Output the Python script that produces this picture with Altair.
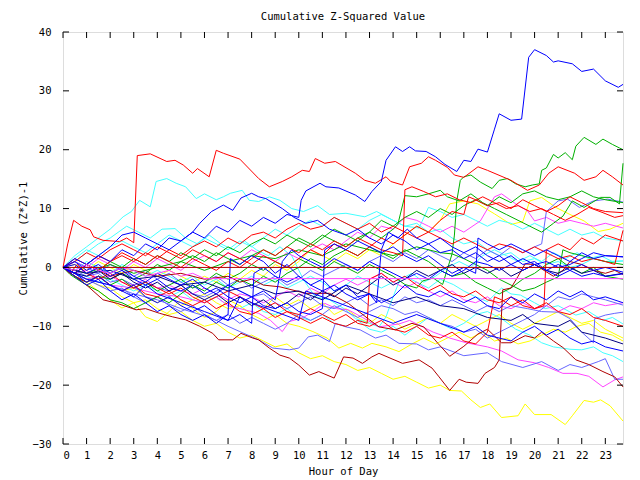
import altair as alt
import pandas as pd

hour_ticks = list(range(24))
value_ticks = [-30, -20, -10, 0, 10, 20, 30, 40]

B1 = [(0,0),(0.5,1.5),(1,0.5),(1.5,2),(2,1),(2.5,3),(3,2),(3.5,4),(4,3),(4.5,5),(5,4.5),(5.5,6),(6,5),(6.5,7),(7,6),(7.5,8),(8,7),(8.5,8.5),(9,7.5),(9.5,9),(10,8.5),(10.1,11.4),(10.3,13),(10.9,14.3),(11.15,13.7),(11.7,13.5),(12.4,12.3),(12.8,11.2),(13.1,12.9),(13.5,14.6),(13.7,18.2),(14.1,20.5),(14.4,19.7),(14.7,20.5),(14.95,19.8),(15.4,19.7),(15.8,18.8),(16.2,17.5),(16.7,16.3),(17.0,18.2),(17.3,18),(17.6,20.1),(18.0,19.6),(18.3,23.5),(18.5,26.1),(19.0,25),(19.45,25.2),(19.75,35.7),(20.0,37),(20.5,36),(20.8,34.9),(21,35.1),(21.6,34.6),(22,33.3),(22.5,33.7),(23,31.7),(23.55,30.6),(23.75,31.1)]
B2 = [(0,0),(0.5,-1),(1,0.5),(1.5,2),(2,3.5),(2.5,5.5),(3,6),(3.5,5),(4,4),(4.5,3),(5,4.5),(5.5,6),(5.8,7.5),(6.3,9.5),(6.8,10.6),(7.2,9.7),(7.55,11.8),(8,12.6),(8.3,12),(8.6,11.7),(9.3,10),(9.8,8.5),(10.3,7.5),(10.8,8),(11.3,6.5),(12,5.5),(12.5,6.5),(13,5),(13.5,4),(14,5.5),(14.5,4.5),(15,3),(15.5,4),(16,2.5),(16.5,3),(17,1.5),(17.5,2.5),(18,1),(18.5,2),(19,0.5),(19.5,1.5),(20,0.5),(20.5,1),(21,0),(21.5,0.5),(22,1.5),(22.5,2.5),(23,2),(23.75,1.8)]
B3 = [(0,0),(0.5,-1.5),(1,-3),(1.5,-2),(2,-4),(2.5,-5.5),(3,-4.5),(3.5,-6),(4,-7.5),(4.5,-6.5),(5,-8),(5.5,-9),(6,-8),(6.5,-9.5),(7,-8),(7.1,1.5),(7.5,0.5),(8,2),(8.5,1),(9,-1),(9.5,0.5),(10,-1.5),(10.5,-3),(11,-2),(11.5,-4),(12,-3),(12.5,-5),(13,-4.5),(13.5,-6),(14,-5),(14.5,-3),(15,-4.5),(15.5,-5),(16,-4),(16.5,-5),(17,-6),(17.5,-5),(18,-6.5),(18.5,-7),(19,-5),(19.5,-6),(20,-4.5),(20.5,-5.5),(21,-4),(21.5,-5),(22,-4),(22.5,-5.5),(23,-5),(23.75,-6)]
B4 = [(0,0),(1,-2),(2,-3),(3,-5),(3.5,-3),(4,-4.5),(5,-6),(6,-7.5),(7,-9),(7.5,-5),(8,-6),(9,-7.5),(10,-9),(10.3,-4),(11,-5),(12,-6.5),(13,-8),(14,-9.5),(15,-8),(16,-9.5),(17,-11),(17.5,-10),(18,-11.5),(19,-12.5),(19.5,-11),(20,-10),(20.5,-11.5),(21,-10.5),(21.5,-12),(22,-13),(22.5,-12.5),(23,-13.5),(23.75,-14.2)]
B5 = [(0,0),(0.5,1),(1,-0.5),(1.5,0.5),(2,-1),(2.5,0),(3,-1.5),(3.5,-2.5),(4,-1),(4.5,-2),(5,-3),(5.5,-2),(6,-3.5),(6.5,-4.5),(7,-3),(7.5,-4),(8,-5),(8.5,-4),(9,-5.5),(9.3,1),(9.7,3),(10,2),(10.5,1),(11,0),(11.5,1.5),(12,0.5),(12.5,-0.5),(13,1),(13.5,0),(14,-1),(14.5,-2),(15,-1),(15.5,-2),(16,-0.5),(16.5,-1.5),(17,-0.5),(17.5,1),(18,0.5),(18.5,-0.5),(19,0.5),(19.5,-0.5),(20,0.5),(20.5,-0.5),(21,-1.5),(21.5,-0.5),(22,-1.5),(22.5,-1),(23,-1.5),(23.75,-1.1)]
B6 = [(0,0),(0.5,-1),(1,-2.5),(1.5,-1.5),(2,-3),(2.5,-4),(3,-3),(3.5,-5),(4,-6),(4.5,-5),(5,-6.5),(5.5,-7.5),(6,-6.5),(6.5,-8),(7,-9),(7.5,-8),(8,-9.5),(8.1,-1),(8.5,0),(9,-1.5),(9.5,-2.5),(10,-1.5),(10.5,-3),(11,-4),(11.5,-3),(12,-4.5),(12.5,-5.5),(13,-4.5),(13.3,-6),(13.5,3),(13.8,6),(14.2,5),(14.6,6.5),(15,5),(15.5,4),(16,5),(16.5,3.5),(17,2.5),(17.5,3.5),(18,2),(18.5,1),(19,2),(19.5,0.5),(20,1),(20.5,-0.5),(21,0.5),(21.5,-0.5),(22,0.5),(22.5,-0.5),(23,0),(23.75,-0.8)]
B7 = [(0,0),(0.5,0.5),(1,-1),(1.5,0),(2,-1.5),(2.5,-0.5),(3,-2),(3.5,-3),(4,-2),(4.5,-3.5),(5,-4),(5.5,-3),(6,-4.5),(6.5,-3.5),(7,-5),(7.5,-6),(8,-5),(8.5,-6.5),(9,-7),(9.5,-6),(10,-7.5),(10.5,-8),(11,-7),(11.1,3),(11.5,4),(12,3),(12.5,4.5),(13,3.5),(13.5,2.5),(14,3.5),(14.5,2),(15,1),(15.5,2),(16,0.5),(16.5,-1),(17,0),(17.5,-1),(17.6,5),(18,4),(18.5,3),(19,4),(19.5,3),(20,2),(20.5,3),(21,2),(21.5,1),(22,2.5),(22.5,1.5),(23,2),(23.75,1.8)]
K1 = [(0,0),(1,-1),(2,-0.5),(3,-2),(4,-1.5),(5,-3),(6,-2.5),(7,-4),(8,-3),(9,-4.5),(10,-4),(11,-5.5),(12,-3),(13,-4.5),(14,-6),(15,-5),(16,-6.5),(17,-7),(18,-8.5),(19,-9),(19.5,-8),(20,-9.5),(21,-10),(21.5,-9),(22,-11),(23,-12),(23.75,-13)]
K2 = [(0,0),(0.5,-1),(1,-1.5),(1.5,-0.5),(2,-2),(2.5,-1),(3,-2.5),(3.5,-3.5),(4,-2.5),(4.5,-4),(5,-3),(5.5,-4.5),(6,-5.5),(6.5,-4.5),(7,-6),(7.5,-5),(8,-6.5),(8.5,-5.5),(9,-7),(9.5,-6),(10,-4.5),(10.5,-5.5),(11,-4),(11.5,-5),(12,-3.5),(12.5,-4.5),(13,-3),(13.5,-1.5),(14,-3),(14.5,-2),(15,-0.5),(15.5,-1.5),(16,-0.5),(16.5,0.5),(17,-1),(17.5,0),(18,-1),(18.5,0),(19,-1.5),(19.5,-0.5),(20,0.5),(20.5,-0.5),(21,-1),(21.5,0),(22,-1),(22.5,-0.5),(23,-1.5),(23.75,-1)]

R1 = [(0,0),(0.2,4),(0.45,8),(0.8,7),(1.15,6.4),(1.3,5.2),(1.7,4.6),(2.4,4.4),(2.7,5),(3.0,4.2),(3.15,19),(3.7,19.3),(4.4,18),(4.75,18.2),(5.1,17.4),(5.5,16),(5.7,16.8),(6.2,15.4),(6.5,19.9),(6.8,19.4),(7.5,18.4),(8.3,15.1),(8.75,13.7),(9.3,14.6),(9.7,15.4),(10.15,16.5),(10.45,16.3),(10.7,18.5),(11.1,17.7),(11.55,18),(12.4,16),(12.8,14.8),(13.25,14.3),(13.7,15.4),(13.9,14.6),(14.4,14),(14.7,17.1),(15.2,17.7),(15.5,18.8),(15.8,18.2),(16.3,17),(16.6,15.7),(17,15.3),(17.6,17.1),(18,16.5),(19,14.8),(19.45,13.7),(19.7,13.1),(20.2,14),(20.6,16),(21.0,17.1),(21.7,16),(22.1,14.8),(22.6,15.4),(22.9,16.5),(23.3,15.4),(23.75,14)]
R2 = [(0,0),(0.5,1.5),(1,0.5),(1.5,2),(2,1),(2.5,2.5),(3,1.5),(3.5,0.5),(4,2),(4.5,1),(5,0),(5.5,1.5),(6,0.5),(6.5,-0.5),(7,1),(7.5,0),(8,1.5),(8.5,3),(9,2),(9.5,3.5),(10,2.5),(10.5,4),(11,3),(11.5,4.5),(12,3.5),(12.5,5),(13,4),(13.5,3),(14,2.5),(14.4,2),(14.5,13.2),(14.8,13.7),(15.3,12.9),(15.8,12),(16.3,12.5),(16.8,11.5),(17.3,11),(17.8,12),(18.3,11),(18.8,10),(19.3,10.5),(19.8,9.5),(20.3,10),(20.8,9),(21.3,8),(21.8,9),(22.3,10.2),(22.9,9.3),(23.4,8.5),(23.75,8.8)]
R3 = [(0,0),(0.5,-1),(1,0.5),(1.5,-0.5),(2,1),(2.5,2),(3,1),(3.5,2.5),(4,1.5),(4.5,3),(5,2),(5.5,3.5),(6,4.5),(6.5,3.5),(7,5),(7.5,4),(8,5.5),(8.5,6),(9,5),(9.5,6.5),(10,7.5),(10.5,6.5),(11,7),(11.5,8.5),(12,7.5),(12.5,6.5),(13,7.5),(13.5,6),(14,7),(14.5,6),(15,5),(15.5,6),(16,5),(16.5,4),(17,5),(17.5,4),(18,3),(18.5,4),(19,3.5),(19.5,2.5),(20,3.5),(20.5,2.5),(21,1.5),(21.5,2),(22,1),(22.5,1.5),(23,1),(23.4,0.5),(23.75,6.3)]
R4 = [(0,0),(0.5,-1.5),(1,-2.5),(1.5,-1.5),(2,-3),(2.5,-4),(3,-3),(3.5,-4.5),(4,-5),(4.5,-4),(5,-5.5),(5.5,-6.5),(6,-5.5),(6.5,-7),(7,-6),(7.5,-7.5),(8,-8),(8.5,-7),(9,-8.5),(9.5,-7.5),(10,-8.5),(10.5,-9.5),(11,-8.5),(11.5,-9.5),(12,-10),(12.5,-9),(12.9,-9.5),(13,-2),(13.5,-1),(14,-2.5),(14.5,-1.5),(15,-3),(15.5,-4),(16,-3),(16.5,-4.5),(17,-5),(17.5,-4),(18,-5.5),(18.5,-6),(19,-5),(19.5,-6.5),(20,-7),(20.4,-6.5),(20.5,3),(21,4),(21.5,3),(22,5),(22.5,4),(23,5.5),(23.75,4.5)]
R5 = [(0,0),(0.5,1),(1,2.5),(1.5,1.5),(2,3),(2.5,4),(3,3),(3.5,2),(4,3.5),(4.5,2.5),(5,1.5),(5.5,3),(6,2),(6.5,1),(7,2.5),(7.5,1.5),(8,0.5),(8.5,2),(9,1),(9.5,0),(10,1.5),(10.5,3),(11,2),(11.5,4),(12,3),(12.5,2),(13,3.5),(13.5,5),(14,4),(14.5,5.5),(15,7),(15.5,6),(16,8),(16.5,9.5),(17,9),(17.2,12),(17.5,11.5),(18,10.5),(18.5,11),(19,10),(19.5,11.5),(20,10.5),(20.5,9.5),(21,10.5),(21.5,12),(22,11),(22.5,10),(23,9.5),(23.75,9.3)]
R6 = [(0,0),(0.3,-1),(0.6,0.5),(1,-1),(1.5,-2),(2,-1),(2.5,-2.5),(3,-3.5),(3.5,-2.5),(4,-3.5),(4.5,-4.5),(5,-3.5),(5.5,-5),(6,-6),(6.5,-5),(7,-4),(7.5,-5),(8,-6),(8.5,-7),(9,-6),(9.5,-7.5),(10,-8),(10.5,-7),(11,-8),(11.5,-9),(12,-8),(12.5,-9.5),(13,-10),(13.5,-9),(14,-10.5),(14.5,-11),(15,-10),(15.5,-11.5),(16,-12),(16.5,-11),(17,-12.5),(17.5,-13),(18,-11),(18.3,-5),(18.6,-5.5),(19,-6.5),(19.5,-5.5),(20,-7),(20.5,-6),(21,-7.5),(21.5,-8),(22,-7),(22.5,-8.5),(23,-9),(23.75,-10)]

G1 = [(0,0),(1,-1),(2,0.5),(3,-1),(4,0),(5,1),(6,-0.5),(7,1),(8,2),(9,1.5),(10,3),(11,2),(12,4),(13,3),(14,2),(15,3.5),(16,2.5),(16.5,2.3),(16.6,5.5),(16.7,11.3),(16.85,14.8),(17,15.4),(17.3,15.7),(17.7,14.5),(18.2,13.4),(18.5,14.8),(18.85,15.1),(19.2,14.2),(19.6,13.7),(19.9,14),(20.2,14.2),(20.3,16.5),(20.5,16.9),(20.8,19.2),(21,18.6),(21.3,19.5),(21.6,18.3),(21.75,20.6),(22.1,22.1),(22.6,20.9),(22.9,21.8),(23.3,20.9),(23.6,20.3),(23.75,20)]
G2 = [(0,0),(0.5,-1),(1,0.5),(1.5,-0.5),(2,1),(2.5,0),(3,1.5),(3.5,0.5),(4,2),(4.5,1),(5,2.5),(5.5,1.5),(6,3),(6.5,2),(7,3.5),(7.5,2.5),(8,4),(8.5,5),(9,4),(9.5,5.5),(10,4.5),(10.5,3.5),(11,5),(11.5,6.5),(12,5.5),(12.5,4.5),(13,6),(13.5,5),(14,6.5),(14.2,7.3),(14.5,12.2),(15,12),(15.5,12.5),(16,13.1),(16.3,12),(16.8,11.3),(17.3,12.5),(17.8,11),(18.3,10),(18.8,9),(19.3,8),(19.8,7),(20.3,6),(20.8,7.5),(21.2,8.7),(21.6,11.3),(22.1,10.2),(22.8,11.9),(23.2,11.9),(23.6,10.8),(23.75,17.7)]
G3 = [(0,0),(0.5,-1.5),(1,-2.5),(1.5,-1.5),(2,-2),(2.5,-1),(3,-2),(3.5,-1),(4,0.5),(4.5,-0.5),(5,1),(5.5,2),(6,1),(6.5,2.5),(7,1.5),(7.5,0.5),(8,2),(8.5,3),(9,2),(9.5,3.5),(10,5),(10.5,4),(11,5.5),(11.5,4.5),(12,3.5),(12.5,5),(13,6),(13.5,8),(14,7),(14.5,8.5),(15,9.5),(15.5,8.5),(16,10),(16.5,9),(17,10.5),(17.5,11.5),(18,10.5),(18.5,12),(19,11),(19.5,12.5),(20,13),(20.5,12),(21,11.5),(21.5,12),(22,13),(22.5,12),(23,11.5),(23.75,11)]
G4 = [(0,0),(0.3,-1),(0.6,-1.8),(1,-2.5),(1.5,-1.5),(2,-3),(2.5,-2),(3,-3.5),(3.5,-2.5),(4,-4),(4.5,-3),(5,-2),(5.5,-3.5),(6,-2.5),(6.5,-1),(7,-2),(7.5,-1),(8,0.5),(8.5,-0.5),(9,1),(9.5,0),(10,1.5),(10.5,0.5),(11,-0.5),(11.5,1),(12,0),(12.5,-1),(13,0.5),(13.5,-0.5),(14,-1.5),(14.5,-2.9),(15,-3.5),(15.25,-2.3),(15.7,-1.8),(16.1,-2.9),(16.5,2.3),(17,1.5),(17.5,0.5),(18,-0.5),(18.5,-2),(19,-3),(19.5,-4),(20,-3.5),(20.5,-2.5),(21,-1.6),(21.2,3),(21.5,2.5),(22,2),(22.5,1.5),(23,1),(23.75,0.5)]
G5 = [(0,0),(0.3,-1.2),(0.6,-2),(1,-3),(1.5,-4),(2,-5.5),(2.5,-6),(3,-7),(3.5,-6),(4,-5),(4.5,-6),(5,-4.5),(5.5,-3),(6,-4),(6.5,-2.5),(7,-3.5),(7.5,-2),(8,-3),(8.5,-1.5),(9,-2.5),(9.5,-1),(10,0),(10.5,1.5),(11,0.5),(11.5,2),(12,3),(12.5,2),(13,3.5),(13.5,2.5),(14,1.5),(14.5,3),(15,2),(15.5,1),(16,-0.5),(16.5,-1.5),(17,-1),(17.5,-2.5),(18,-3.5),(18.5,-4.5),(19,-3.5),(19.5,-2),(20,-1),(20.5,0.5),(21,1.5),(21.5,0),(22,-1),(22.5,0),(23,-1.5),(23.75,-2)]

C1 = [(0,0),(0.5,2),(1,3.5),(1.5,5),(2,6.5),(2.55,8.6),(2.9,9.5),(3.25,11.4),(3.7,10.3),(3.95,14.6),(4.4,15.1),(4.8,14.3),(5.2,13.7),(5.65,11.7),(6,12.5),(6.5,11.5),(6.8,12),(7.1,12.6),(7.6,13.1),(7.9,11.4),(8.3,11.2),(8.75,12),(9.2,11.4),(9.7,10),(10.2,9.5),(10.8,10.5),(11.3,9),(12,9.2),(12.8,8.6),(13.3,9.5),(14,8),(14.5,7),(15,7.5),(15.5,6),(16,6.5),(16.5,5),(17,4),(17.5,4.5),(18,3),(18.5,2),(19,2.5),(19.5,1),(20,1.5),(20.5,0.5),(21,1),(21.5,0),(22,0.5),(22.5,1.5),(23,1),(23.75,1.1)]
C2 = [(0,0),(0.5,1),(1,2.5),(1.5,4),(2,5),(2.7,7),(3.2,6),(3.7,5),(4.2,6.5),(4.75,6.6),(5.2,5),(5.7,4),(6.2,5.5),(6.7,4),(7.2,3),(7.7,4.5),(8.2,3),(8.7,2),(9.2,3.5),(9.7,2),(10.2,-2.1),(10.7,-5),(11.3,-5.5),(12,-7.2),(12.4,-8.7),(13,-9.5),(13.4,-10.1),(13.7,-8.4),(14,-5),(14.3,-2),(14.8,-1),(15.3,-2.5),(15.8,-1.5),(16.3,0),(16.8,1),(17.3,0),(17.8,2),(18.3,3),(18.8,2),(19.3,1),(19.8,2),(20.3,1),(20.8,2.5),(21.3,1.5),(21.8,2.5),(22.3,1.5),(22.8,2),(23.3,1),(23.75,1.1)]
C3 = [(0,0),(0.5,-0.5),(1,1),(1.5,0),(2,-1),(2.5,0.5),(3,-0.5),(3.5,-1.5),(4,-0.5),(4.5,-1.5),(5,-2.5),(5.5,-1.5),(6,-3),(6.5,-2),(7,-3.5),(7.5,-2.5),(8,-1.5),(8.5,-3),(9,-2),(9.5,-3.5),(10,-2.5),(10.5,-1.5),(11,-2.5),(11.5,-4),(12,-3),(12.5,-1.5),(13,-2.5),(13.5,-3.5),(14,-2.5),(14.5,-1.5),(15,-2.5),(15.5,-3.5),(16,-2),(16.55,-2.9),(17,-4),(17.5,-5),(18,-5.8),(18.6,-3.5),(19,-4.5),(19.4,-4.7),(20,-6),(20.45,-7),(21,-6.5),(21.75,-8.1),(22.3,-7.5),(22.9,-9),(23.3,-8.5),(23.75,-9.6)]
C4 = [(0,0),(0.5,-1),(1,-1.5),(1.5,-2.5),(2,-2),(2.5,-3),(3,-4),(3.5,-3),(4,-4),(4.5,-5),(5,-4),(5.5,-5.5),(6,-6),(6.5,-5),(7,-6.5),(7.5,-7),(8,-6),(8.5,-7.5),(9,-8),(9.5,-7),(10,-8.5),(10.5,-9),(11,-8),(11.5,-9.5),(12,-10),(12.5,-9),(13,-10.5),(13.5,-11),(14,-10),(14.5,-11.5),(15,-10),(15.5,-8.5),(16,-9.5),(16.5,-10.5),(17,-9.5),(17.5,-8),(18,-7.5),(18.6,-8.7),(19.2,-10.5),(19.8,-11.5),(20.3,-12.8),(20.8,-13.5),(21.5,-13.9),(22,-14),(22.5,-13.5),(22.9,-14.5),(23.3,-15),(23.75,-16)]
C5 = [(0,0),(0.5,1.5),(1,3),(1.5,2),(2,3.5),(2.5,4.5),(3,3.5),(3.5,2.5),(4,4),(4.5,5.5),(5,4.5),(5.5,3.5),(6,5),(6.5,4),(7,3),(7.5,4.5),(8,3.5),(8.5,5),(9,6.5),(9.5,5.5),(10,7),(10.5,8),(11,7),(11.5,8.5),(12,7.5),(12.5,6.5),(13,8),(13.5,9),(14,8),(14.5,7),(15.1,6.7),(15.5,10.2),(16,9.5),(16.5,8.5),(17,9),(17.5,8),(18,7),(18.5,8),(19,7.5),(19.5,6.5),(20,7.5),(20.5,6.5),(21,5.5),(21.5,6.5),(22,5.5),(22.5,6),(23,5),(23.75,4.5)]

M1 = [(0,0),(0.5,-1),(1,-2),(1.5,-1.5),(2,-3),(3,-3.5),(4,-4.5),(5,-5),(6,-6),(6.5,-5),(7,-6.5),(7.5,-7),(8.3,-7.8),(8.8,-9),(9.3,-10.9),(9.6,-9.2),(10.2,-8.5),(10.7,-7.2),(11.1,-6.1),(11.6,-7),(12.1,-7.2),(12.7,-8.5),(13.4,-10.1),(14.25,-9.6),(14.7,-9),(15.7,-11),(16.4,-12),(17.1,-12.8),(18,-13.5),(18.6,-14.2),(19.3,-15.7),(20,-16.2),(20.6,-17),(21.2,-18),(21.8,-18),(22.3,-18.5),(22.9,-20.3),(23.4,-19.1),(23.75,-18.6)]
M3 = [(0,0),(0.5,1),(1,0),(1.5,1.5),(2,0.5),(2.5,-0.5),(3,1),(3.5,0),(4,1.5),(4.5,0.5),(5,-0.5),(5.5,1),(6,2),(6.5,1),(7,2.5),(7.5,1.5),(8,3),(8.5,2),(9,1),(9.5,2.5),(10,1.5),(10.5,3),(11,4),(11.5,3),(12,4.5),(12.5,6),(13,5),(13.5,7),(14,6.5),(14.5,8.5),(15,8),(15.5,7),(16,6),(16.5,7),(17,6),(17.7,7.9),(18.3,12),(18.6,12.5),(19.2,10.8),(19.7,9.6),(20,7.9),(20.5,8.5),(21,7.5),(21.5,8),(22,7.5),(22.5,7),(23,7.5),(23.75,6.7)]
M4 = [(0,0),(0.5,-1),(1,-0.5),(1.5,-2),(2,-1.5),(2.5,-2.5),(3,-3),(3.5,-2),(4,-3.5),(4.5,-3),(5,-4),(5.5,-4.5),(6,-3.5),(6.5,-4.5),(7,-5.5),(7.5,-4.5),(8,-5),(8.5,-6),(9,-5),(9.5,-4),(10,-5),(10.5,-3.5),(11,-4.5),(11.5,-3),(12,-2),(12.5,-3),(13,-2),(13.5,-1),(14,-2.5),(14.5,-3.5),(15,-2.5),(15.5,-4),(16,-5),(16.5,-4),(17,-5.5),(17.5,-6),(18,-5),(18.5,-6.5),(19,-7),(19.5,-6),(20,-7),(20.5,-6.5),(21,-7.5),(21.5,-6.5),(22,-7),(22.5,-6),(23,-6.5),(23.75,-6)]
M2 = [(0,0),(0.5,-0.5),(1,0.5),(1.5,-0.5),(2,-1),(2.5,0),(3,-0.5),(3.5,-1.5),(4,-1),(4.5,-0.5),(5,-1.5),(5.5,-1),(6,-1.9),(23.75,-1.9)]

Y1 = [(0,0),(0.5,-1),(1,-2),(1.5,-3),(2,-3.5),(2.5,-5),(3,-6),(3.5,-5.5),(4,-7),(4.5,-8),(5,-7.5),(5.5,-9),(6,-10),(6.5,-9.5),(7,-11),(7.5,-12),(8,-11.5),(8.5,-12.5),(9,-13.5),(9.5,-13),(10,-14.5),(10.5,-15.5),(11,-15),(11.5,-16),(12,-16.5),(12.5,-17.5),(13,-17),(13.5,-18),(14,-19),(14.5,-18.5),(15,-19.5),(15.5,-20.5),(16,-20),(16.4,-20.9),(16.9,-21),(17.3,-22.5),(17.7,-23.8),(18.1,-23.2),(18.6,-25.5),(19.3,-25.2),(19.6,-23.2),(20,-25),(20.7,-25),(21.3,-26.7),(21.6,-25.2),(22.1,-22.6),(22.5,-22.9),(22.8,-22.5),(23.2,-23.5),(23.75,-26.1)]
Y2 = [(0,0),(0.5,-1),(1,-2),(1.5,-1.5),(2,-3),(2.5,-4),(3,-3.5),(3.5,-5),(4,-6),(4.5,-5),(5,-6.5),(5.5,-5.5),(6,-4.5),(6.5,-6),(7,-7),(7.5,-6.5),(8,-8),(8.5,-9),(9,-8),(9.5,-9.5),(10,-10),(10.6,-10.9),(11.2,-12),(11.7,-13.7),(12.2,-12.9),(12.7,-13.7),(13.1,-12.9),(13.7,-13.5),(14.25,-14.3),(14.8,-13),(15.3,-12),(15.8,-13),(16.3,-12),(16.8,-11),(17.3,-12),(17.8,-11),(18.3,-12.5),(18.8,-12),(19.3,-13),(19.8,-12.5),(20.3,-11.5),(20.8,-10.5),(21.3,-11),(21.8,-10),(22.3,-9.5),(22.8,-11),(23.3,-11.5),(23.75,-12.5)]
Y3 = [(0,0),(0.5,0.5),(1,-0.5),(1.5,1),(2,0),(2.5,-1),(3,0.5),(3.5,-0.5),(4,-1.5),(4.5,-0.5),(5,-1.5),(5.5,-2.5),(6,-1.5),(6.5,-2.5),(7,-1),(7.5,-2),(8,-0.5),(8.5,-1.5),(9,0.5),(9.5,-0.5),(10,1),(10.5,3),(11,2),(11.5,1),(12,2.5),(12.5,1.5),(13,3),(13.5,2),(14,4),(14.5,5.5),(15,7),(15.5,6),(16,8),(16.4,10.8),(17,11.3),(17.6,10.8),(18.3,9.1),(19,7.3),(19.5,7.8),(19.8,11.3),(20.3,11.9),(20.9,10.2),(21.5,9),(22.1,7.9),(22.7,6.1),(23.2,6.5),(23.75,7.5)]
Y4 = [(0,0),(0.5,-1.5),(1,-2.5),(1.5,-4),(2,-5.5),(2.5,-6.9),(3,-6),(3.5,-8.4),(4,-9.2),(4.5,-7.5),(5,-5.5),(5.5,-7),(6,-8.5),(6.5,-7.5),(7,-5.5),(7.5,-6.5),(8,-8),(8.5,-7),(9,-5),(9.5,-6.5),(10,-5.5),(10.5,-7),(11,-6),(11.5,-8),(12,-7),(12.5,-8.5),(13,-9.5),(13.5,-8),(14,-9),(14.5,-10.5),(15,-9.5),(15.5,-8.5),(16,-9.5),(16.5,-8),(17,-9),(17.5,-10),(18,-9),(18.5,-8),(19,-9.5),(19.5,-10.5),(20,-9.5),(20.5,-8.5),(21,-7.5),(21.5,-8.5),(22,-9.5),(22.5,-9),(23,-10.5),(23.75,-12)]

D1 = [(0,0),(0.5,-1.5),(1,-3),(1.7,-5.5),(2.3,-6.1),(3.1,-7.2),(3.5,-7),(4.1,-7.8),(4.65,-8.4),(5.2,-8.9),(5.8,-10),(6.35,-11.2),(6.6,-12.3),(7.2,-12.3),(7.55,-11.2),(8.05,-12),(8.3,-12.3),(8.75,-13.7),(9.2,-14.9),(9.6,-15.4),(10,-16.6),(10.45,-18.3),(10.85,-17.7),(11.5,-18.8),(11.9,-15.2),(12.3,-15.4),(12.7,-16.3),(13.1,-15.2),(13.4,-14.6),(14.4,-16.3),(15.1,-15.7),(15.65,-17.1),(15.95,-18.6),(16.4,-20.9),(16.8,-19),(17.1,-19.5),(17.6,-19.7),(17.9,-18),(18.3,-17),(18.5,-15.7),(18.65,-3.8),(19,-3.5),(19.3,-1.5),(19.6,0.6),(20,0.5),(20.4,-0.5),(20.8,-1.5),(21.2,-0.5),(21.5,1),(22,0.5),(22.5,-0.5),(23,-1),(23.4,-0.5),(23.75,-1.2)]
D2 = [(0,0),(0.5,-1),(1,0.5),(1.5,-0.5),(2,-1.5),(3,-0.5),(4,-1.5),(5,-1),(6,-2),(7,-1.5),(7.5,-2.5),(8,-2),(8.5,-3),(9.2,-3.3),(10.3,-4.4),(11.3,-4.4),(12.1,-6.1),(13,-8.9),(13.4,-10.1),(14.1,-10.6),(14.8,-9.5),(15.3,-10.1),(15.9,-12.9),(16.4,-15.1),(17,-13.4),(17.6,-11.3),(18,-10.5),(18.6,-12.8),(19,-12.8),(19.6,-11.6),(20,-12),(20.3,-11),(20.8,-12.5),(21.2,-13.6),(21.75,-15.7),(22.3,-16.5),(22.9,-17.7),(23.4,-18.6),(23.75,-20.3)]
D0 = [(0,0),(23.75,0)]

L1 = [(0,0),(0.5,-1),(1,-2),(2,-3),(3,-4.5),(4,-5.5),(5,-7),(5.9,-8.1),(6.5,-9),(7,-10),(7.5,-10.9),(8.3,-12.3),(8.9,-13.7),(9.6,-14),(10,-13.7),(10.4,-11.8),(10.8,-11.5),(11.3,-12.6),(11.55,-9.5),(12,-10.1),(12.6,-10.6),(13.25,-12),(13.7,-11.5),(14.25,-12.9),(15,-13),(15.5,-14),(16,-13.5),(17,-15),(18,-14.5),(18.6,-16),(19.5,-17),(20.3,-16),(21,-17.5),(21.5,-16.5),(22,-17),(22.7,-16),(23,-15.5),(23.4,-19),(23.75,-19)]
L2 = [(0,0),(0.5,-0.5),(1,-1.5),(1.5,-1),(2,-2.5),(2.5,-2),(3,-3),(3.5,-2.5),(4,-3.5),(4.5,-4),(5,-3),(5.5,-4.5),(6,-5),(6.5,-4),(7,-3),(7.5,-4),(8,-5),(8.5,-4.5),(9,-6),(9.5,-7),(10,-6),(10.5,-5),(11,-6.5),(11.5,-7),(12,-6),(12.5,-5),(13,-6.5),(13.5,-5.5),(14,-6.5),(14.5,-5),(15,-6),(15.5,-5.5),(16,-6.5),(16.5,-5.5),(17,-6.5),(17.5,-7.5),(18,-6.5),(18.5,-7.5),(19,-6.5),(19.7,-7),(20.3,-7.5),(21,-7.6),(21.5,-8.7),(22,-11),(22.5,-12.8),(22.55,-8.7),(23,-8.1),(23.4,-7.8),(23.75,-7.6)]
L3 = [(0,0),(0.5,-1),(1,-2),(1.5,-3),(2,-4),(2.5,-3.5),(3,-5),(3.5,-6),(4,-5),(4.5,-6.5),(5,-7.5),(5.5,-6.5),(6,-8),(6.5,-9),(7,-8),(7.5,-9.5),(8,-8.5),(8.5,-9.5),(9,-10.5),(9.5,-9.5),(10,-8),(10.5,-9),(11,-8),(11.5,-6.5),(12,-7.5),(12.5,-8.5),(13,-7.5),(13.5,-6.5),(14,-7),(14.5,-8),(15,-7.5),(15.5,-8.5),(16,-9.5),(16.5,-10),(17,-11),(17.5,-10.5),(18,-12),(18.5,-11),(19,-10),(19.5,-9),(20,-8),(20.5,-6.5),(21,-5),(21.5,-5.5),(22,-4.5),(22.5,-5),(23,-5.5),(23.75,-6.4)]
L4 = [(0,0),(0.5,1),(1,0),(1.5,-1),(2,0.5),(2.5,-0.5),(3,-1.5),(3.5,-0.5),(4,-2),(4.5,-1),(5,-2.5),(5.5,-3.5),(6,-2.5),(6.5,-1.5),(7,-3),(7.5,-2),(8,-3.5),(8.5,-2.5),(9,-1.5),(9.5,-3),(10,-2),(10.5,-0.5),(11,-1.5),(11.5,-0.5),(12,0.5),(12.5,-0.5),(13,1),(13.5,2),(14,1),(14.5,2.5),(15,1.5),(15.5,3),(16,2),(16.5,1),(17,2.5),(17.5,1.5),(18,3),(18.5,2),(19,3.5),(19.5,2.5),(20,3.5),(20.3,4),(20.5,9.5),(21,11.3),(21.4,11.6),(21.9,10.2),(22.5,11.3),(23.1,11.6),(23.75,11.1)]

RED, GREEN, BLUE, MAGENTA, CYAN = "#ff0000", "#00b000", "#0000ff", "#ff44ff", "#44ffff"
DARKRED, YELLOW, NAVY, LIGHTBLUE = "#b00000", "#ffff00", "#000080", "#6666ff"

series = [
    ("Y1", YELLOW, Y1), ("Y2", YELLOW, Y2), ("Y3", YELLOW, Y3), ("Y4", YELLOW, Y4),
    ("C1", CYAN, C1), ("C2", CYAN, C2), ("C3", CYAN, C3), ("C4", CYAN, C4), ("C5", CYAN, C5),
    ("M1", MAGENTA, M1), ("M3", MAGENTA, M3), ("M4", MAGENTA, M4),
    ("L1", LIGHTBLUE, L1), ("L2", LIGHTBLUE, L2), ("L3", LIGHTBLUE, L3), ("L4", LIGHTBLUE, L4),
    ("G1", GREEN, G1), ("G2", GREEN, G2), ("G3", GREEN, G3), ("G4", GREEN, G4), ("G5", GREEN, G5),
    ("R1", RED, R1), ("R2", RED, R2), ("R3", RED, R3), ("R4", RED, R4), ("R5", RED, R5), ("R6", RED, R6),
    ("D1", DARKRED, D1), ("D2", DARKRED, D2),
    ("K1", NAVY, K1), ("K2", NAVY, K2),
    ("B1", BLUE, B1), ("B2", BLUE, B2), ("B3", BLUE, B3), ("B4", BLUE, B4), ("B5", BLUE, B5), ("B6", BLUE, B6), ("B7", BLUE, B7),
    ("M2", MAGENTA, M2), ("D0", DARKRED, D0),
]

rows = []
for k, (name, color, pts) in enumerate(series):
    for i, (h, v) in enumerate(pts):
        rows.append({"series": f"{k:02d}_{name}", "color": color, "hour": h, "value": v, "i": i})
df = pd.DataFrame(rows)

W, H = 560, 412
FONT = "DejaVu Sans Mono"
FS = 10.5
xs = alt.Scale(domain=[0, 23.75], nice=False, zero=False)
ys = alt.Scale(domain=[-30, 40], nice=False, zero=False)

x_axis = alt.Axis(
    values=hour_ticks, format="d", ticks=False, tickSize=0, domain=False, grid=False,
    labelPadding=6, labelFont=FONT, labelFontSize=FS, labelColor="black",
    title="Hour of Day", titleFont=FONT, titleFontSize=FS, titleFontWeight="normal",
    titleColor="black", titleX=W / 2, titleY=27, titleBaseline="middle", titleAlign="center")
y_axis = alt.Axis(
    values=value_ticks, format="d", ticks=False, tickSize=0, domain=False, grid=False,
    labelPadding=12, labelFont=FONT, labelFontSize=FS, labelColor="black",
    title="Cumulative (Z*Z)-1", titleFont=FONT, titleFontSize=FS, titleFontWeight="normal",
    titleColor="black", titleX=-40, titleY=H / 2, titleAngle=270, titleBaseline="middle",
    titleAlign="center")

lines = alt.Chart(df).mark_line(strokeWidth=1, interpolate="linear").encode(
    x=alt.X("hour:Q", scale=xs, axis=x_axis),
    y=alt.Y("value:Q", scale=ys, axis=y_axis),
    detail="series:N",
    color=alt.Color("color:N", scale=None),
    order="i:Q",
)

xt = pd.DataFrame({"hour": hour_ticks})
yt = pd.DataFrame({"value": value_ticks})
tick_style = dict(color="black", strokeWidth=1)
xb = alt.Chart(xt).mark_rule(**tick_style).encode(
    x=alt.X("hour:Q", scale=xs, axis=x_axis), y=alt.value(H - 6), y2=alt.value(H))
xtp = alt.Chart(xt).mark_rule(**tick_style).encode(
    x=alt.X("hour:Q", scale=xs, axis=x_axis), y=alt.value(0), y2=alt.value(6))
yl = alt.Chart(yt).mark_rule(**tick_style).encode(
    y=alt.Y("value:Q", scale=ys, axis=y_axis), x=alt.value(0), x2=alt.value(6))
yr = alt.Chart(yt).mark_rule(**tick_style).encode(
    y=alt.Y("value:Q", scale=ys, axis=y_axis), x=alt.value(W - 6), x2=alt.value(W))

chart = alt.layer(lines, xb, xtp, yl, yr).properties(
    width=W, height=H,
    title=alt.TitleParams("Cumulative Z-Squared Value", font=FONT, fontSize=FS,
                          fontWeight="normal", color="black", anchor="middle", offset=5),
    autosize=alt.AutoSizeParams(type="none"),
    padding={"left": 55, "top": 24, "right": 2, "bottom": 34},
).configure_view(stroke="black", strokeWidth=1).configure(background="white")

chart.save("out.html", embed_options={"renderer": "svg", "actions": False})
